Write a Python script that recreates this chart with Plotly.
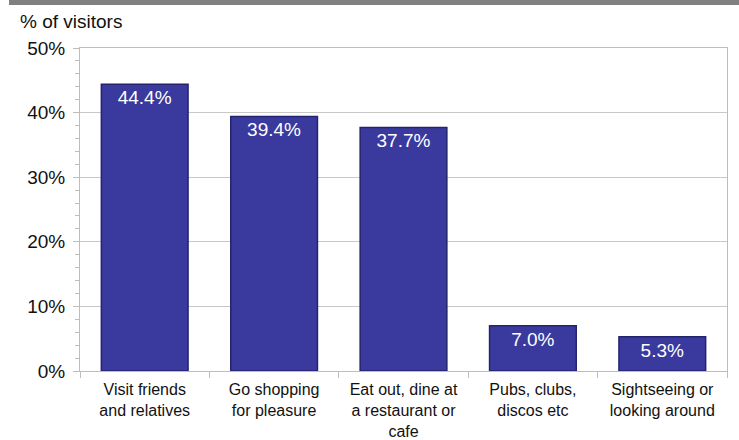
import plotly.graph_objects as go

categories = ["Visit friends<br>and relatives", "Go shopping<br>for pleasure",
              "Eat out, dine at<br>a restaurant or<br>cafe", "Pubs, clubs,<br>discos etc",
              "Sightseeing or<br>looking around"]
values = [0.444, 0.394, 0.377, 0.070, 0.053]
labels = ["44.4%", "39.4%", "37.7%", "7.0%", "5.3%"]

W, H = 739, 440
L, R, T, B = 80, 12, 48, 69
ph = H - T - B
pw = W - L - R
FONT = "Liberation Sans, Arial, sans-serif"

fig = go.Figure(go.Bar(
    x=categories, y=values, text=labels,
    textposition="inside", insidetextanchor="end", textangle=0,
    constraintext="none",
    textfont=dict(family=FONT, size=19, color="white"),
    marker=dict(color="#3A3A9E", line=dict(color="#24246E", width=1.5)),
    width=0.67,
))

fig.update_layout(
    width=W, height=H,
    margin=dict(l=L, r=R, t=T, b=B),
    paper_bgcolor="white", plot_bgcolor="white",
    showlegend=False,
    font=dict(family=FONT, color="#111111"),
)
fig.update_yaxes(
    range=[0, 0.5], dtick=0.1, tickformat=".0%",
    showgrid=True, gridcolor="#C8C8C8", gridwidth=1,
    showline=True, linecolor="#BDBDBD", linewidth=1, mirror=True,
    ticks="outside", ticklen=6, tickcolor="#BDBDBD",
    minor=dict(dtick=0.02, ticks="outside", ticklen=4, tickcolor="#BDBDBD", showgrid=False),
    tickfont=dict(family=FONT, size=19, color="#111111"),
    ticklabelstandoff=4,
    zeroline=False, automargin=False,
)
fig.update_xaxes(
    showline=True, linecolor="#BDBDBD", linewidth=1, mirror=True,
    ticks="outside", tickson="boundaries", ticklen=6, tickcolor="#BDBDBD",
    tickfont=dict(family=FONT, size=16, color="#111111"),
    ticklabelstandoff=4, automargin=False,
)

fig.add_shape(type="rect", xref="paper", yref="paper",
              x0=(9 - L) / pw, x1=(W - L) / pw,
              y0=(H - B - 5) / ph, y1=(H - B + 2) / ph,
              fillcolor="#808080", line=dict(width=0), layer="above")

fig.add_annotation(text="% of visitors", xref="paper", yref="paper",
                   x=(18 - L) / pw, y=(H - B - 22) / ph,
                   xanchor="left", yanchor="middle", showarrow=False,
                   font=dict(family=FONT, size=19, color="#111111"))

fig.write_html("out.html")
